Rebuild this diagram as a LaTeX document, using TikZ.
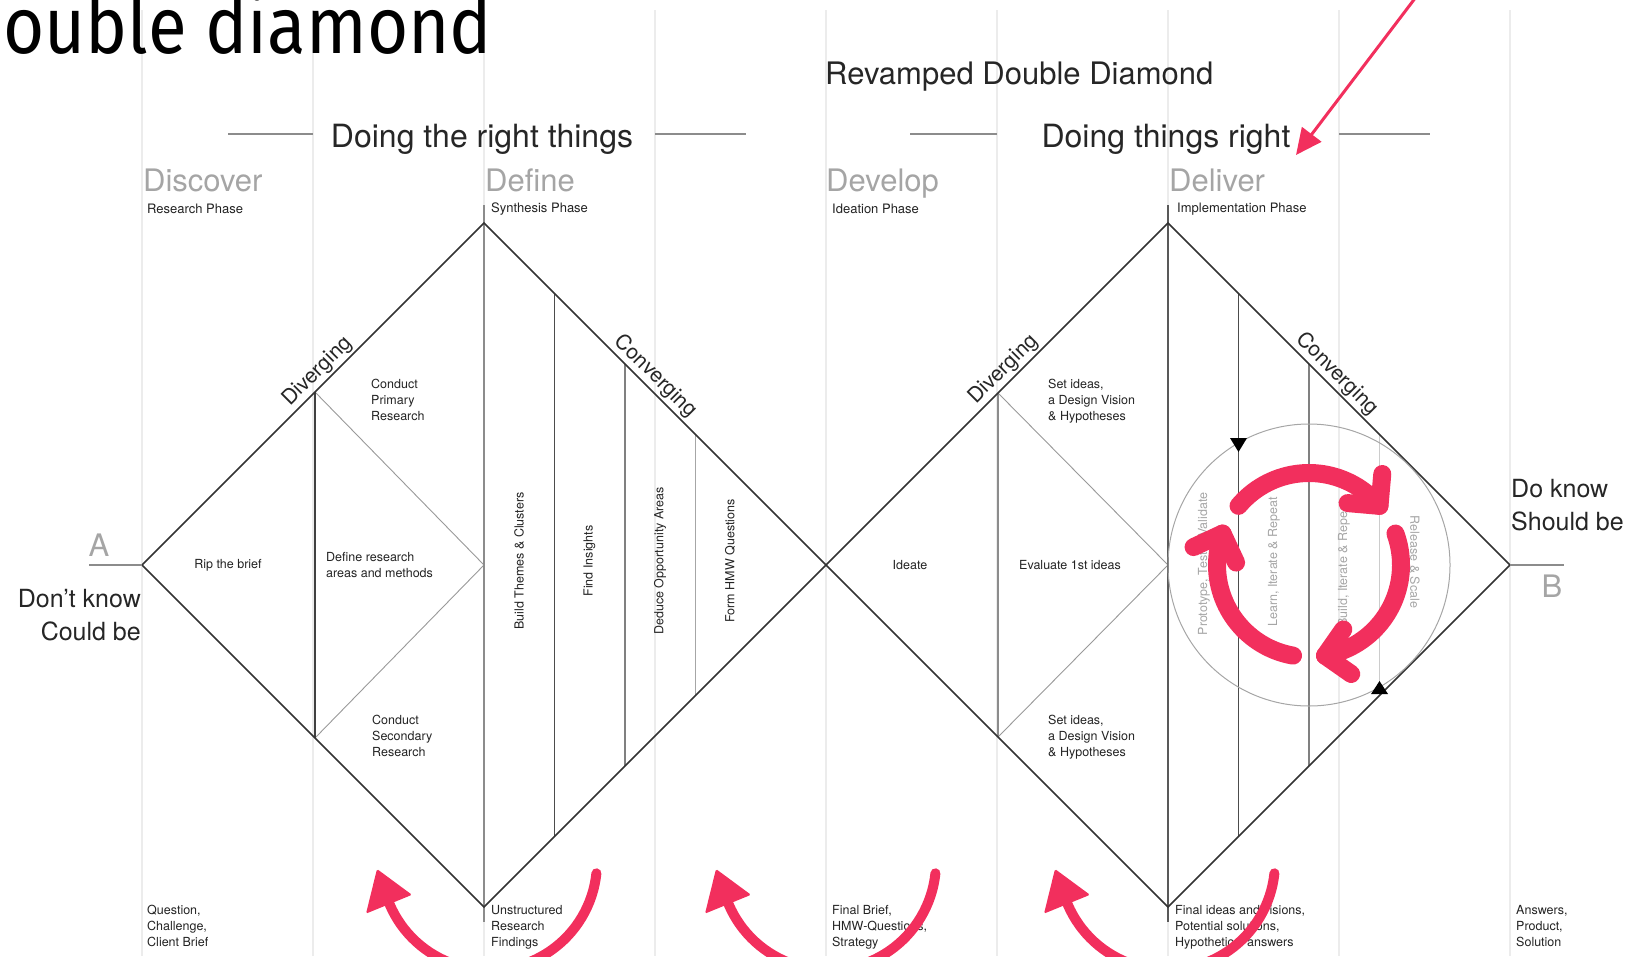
\documentclass[tikz,border=0pt]{standalone}
\usepackage{fontspec}
\setmainfont{TeX Gyre Heros}
\newfontfamily\titlefont{Fira Sans}
\usetikzlibrary{arrows.meta}
\definecolor{accent}{RGB}{242,47,93}
\definecolor{gridc}{RGB}{236,236,236}
\definecolor{phasec}{RGB}{165,165,165}
\definecolor{inkc}{RGB}{35,35,35}
\begin{document}
\begin{tikzpicture}[x=1pt,y=-1pt,
  gridline/.style={draw=gridc,line width=1.3},
  outline/.style={draw=black!80,line width=1.7},
  colline/.style={draw=black!#1,line width=1.2},
  thinline/.style={draw=black!40,line width=0.9},
  small/.style={font=\fontsize{12.5}{16}\selectfont,text=inkc,inner sep=0,align=left},
  smallrot/.style={font=\fontsize{12.5}{16}\selectfont,text=inkc,inner sep=0,rotate=90},
  circtext/.style={font=\fontsize{12.5}{16}\selectfont,text=black!35,inner sep=0,rotate=90},
  phase/.style={font=\fontsize{31}{31}\selectfont,text=phasec,anchor=base west,inner sep=0},
  sub/.style={font=\fontsize{13}{14}\selectfont,text=inkc,anchor=west,inner sep=0},
  head/.style={font=\fontsize{32}{32}\selectfont,text=black!85,anchor=base,inner sep=0},
  rule/.style={draw=black!45,line width=1.4},
  flow/.style={font=\fontsize{21}{21}\selectfont,text=black!85,anchor=south,inner sep=2.5},
  endtext/.style={font=\fontsize{25}{33}\selectfont,text=black!85,inner sep=0},
  endletter/.style={font=\fontsize{31}{31}\selectfont,text=phasec,anchor=base,inner sep=0},
  redarc/.style={draw=accent,line width=10,line cap=round},
  cyc/.style={draw=accent,line width=18,line cap=round,line join=round},
]
\useasboundingbox (0,0) rectangle (1637,956);
% background grid
\foreach \k in {0,...,8} \draw[gridline] ({142+171*\k},10) -- ({142+171*\k},956);

% titles
\node[anchor=base west,inner sep=0,font=\titlefont\fontsize{80}{80}\selectfont] (title) at (3,53) {\scalebox{0.885}[1]{ouble diamond}};
\node[font=\fontsize{31}{31}\selectfont,anchor=base west,inner sep=0,text=black!85] (rev) at (825,84) {Revamped Double Diamond};
\node[head] (h1) at (482,147) {Doing the right things};
\node[head] (h2) at (1166,147) {Doing things right};
\draw[rule] (228,134) -- (313,134);
\draw[rule] (655,134) -- (746,134);
\draw[rule] (910,134) -- (997,134);
\draw[rule] (1339,134) -- (1430,134);

% phases
\node[phase] (p1) at (143,191) {Discover};
\node[phase] (p2) at (485,191) {Define};
\node[phase] (p3) at (826,191) {Develop};
\node[phase] (p4) at (1169,191) {Deliver};
\node[sub] (s1) at (147,209) {Research Phase};
\node[sub] (s2) at (491,209) {Synthesis Phase};
\node[sub] (s3) at (832,209) {Ideation Phase};
\node[sub] (s4) at (1177,209) {Implementation Phase};

% diamond corners
\coordinate (LA) at (142,565);
\coordinate (LT) at (484,223);
\coordinate (LM) at (826,565);
\coordinate (LB) at (484,907);
\coordinate (RT) at (1168,223);
\coordinate (RR) at (1510,565);
\coordinate (RB) at (1168,907);
\coordinate (LC) at (484,565);
\coordinate (RC) at (1168,565);

% inner structure left
\coordinate (L1t) at (315,392);
\coordinate (L1b) at (315,738);
\draw[thinline] (L1t) -- (LC) -- (L1b);
\draw[colline=75] (L1t) -- (L1b);
\draw[colline=45] (484,205) -- (484,922);
\draw[colline=70] (554.5,293.5) -- (554.5,836.5);
\draw[colline=50] (625,364) -- (625,766);
\draw[colline=35] (695.5,434.5) -- (695.5,695.5);

% inner structure right
\coordinate (R1t) at (998,393);
\coordinate (R1b) at (998,737);
\draw[thinline] (R1t) -- (RC) -- (R1b);
\draw[colline=45] (R1t) -- (R1b);
\draw[colline=65] (1168,205) -- (1168,922);
\draw[colline=70] (1238.5,293.5) -- (1238.5,836.5);
\draw[colline=50] (1309,364) -- (1309,766);
\draw[colline=20] (1379.5,434.5) -- (1379.5,695.5);

% diamonds
\draw[outline,line join=miter] (LA) -- (LT) -- (LM) -- (LB) -- cycle;
\draw[outline,line join=miter] (LM) -- (RT) -- (RR) -- (RB) -- cycle;

% start / end
\draw[rule] (89,565) -- (LA);
\draw[rule] (RR) -- (1564,565);
\node[endletter] (A) at (99,556) {A};
\node[endletter] (B) at (1552,597) {B};
\node[endtext,align=right,anchor=north east] (dk) at (141,589) {Don't know\\Could be};
\node[endtext,align=left,anchor=north west] (kn) at (1511,479) {Do know\\Should be};

% diverging / converging
\node[flow,rotate=45] (dv1) at (326.5,380.5) {Diverging};
\node[flow,rotate=45] (dv2) at (1012.5,378.5) {Diverging};
\node[flow,rotate=-45] (cv1) at (646.5,385.5) {Converging};
\node[flow,rotate=-45] (cv2) at (1328,383) {Converging};

% body texts left
\node[small] (t1) at (228,565) {Rip the brief};
\node[small,anchor=north west] (t2) at (371,379) {Conduct\\Primary\\Research};
\node[small,anchor=west] (t3) at (326,565) {Define research\\areas and methods};
\node[small,anchor=north west] (t4) at (372,715) {Conduct\\Secondary\\Research};
\node[smallrot] (c1) at (519,561) {Build Themes \& Clusters};
\node[smallrot] (c2) at (589.5,561) {Find Insights};
\node[smallrot] (c3) at (660,561) {Deduce Opportunity Areas};
\node[smallrot] (c4) at (730,561) {Form HMW Questions};

% body texts right
\node[small] (t5) at (910,565) {Ideate};
\node[small,anchor=north west] (t6) at (1048,379) {Set ideas,\\a Design Vision\\\& Hypotheses};
\node[small] (t7) at (1070,565) {Evaluate 1st ideas};
\node[small,anchor=north west] (t8) at (1048,715) {Set ideas,\\a Design Vision\\\& Hypotheses};

% bottom texts
\node[small,anchor=north west] (b1) at (147,905) {Question,\\Challenge,\\Client Brief};
\node[small,anchor=north west] (b2) at (491,905) {Unstructured\\Research\\Findings};
\node[small,anchor=north west] (b3) at (832,905) {Final Brief,\\HMW-Questions,\\Strategy};
\node[small,anchor=north west] (b4) at (1175,905) {Final ideas and visions,\\Potential solutions,\\Hypothetical answers};
\node[small,anchor=north west] (b5) at (1516,905) {Answers,\\Product,\\Solution};

% iteration circle
\draw[draw=black!35,line width=1] (1309,565) circle[radius=141];
\node[circtext] (q1) at (1204,564) {Prototype, Test \& Validate};
\node[circtext] (q2) at (1274,562) {Learn, Iterate \& Repeat};
\node[circtext] (q3) at (1344,564) {Build, Iterate \& Repeat};
\node[circtext,rotate=180] (q4) at (1415,562) {Release \& Scale};
\fill[black] (1238.5,452) -- (1230,438) -- (1247,438) -- cycle;
\fill[black] (1379.5,681) -- (1371,694) -- (1388,694) -- cycle;

% cycle arrows
\foreach \k in {0,1,2} {
  \pgfmathsetmacro\sa{-140+120*\k}
  \pgfmathsetmacro\ea{-40+120*\k}
  \draw[cyc] plot[domain=\sa:\ea,samples=40] ({1309+92*cos(\x)},{565+92*sin(\x)});
  \draw[cyc] ({1309+92*cos(\ea)+32*cos(\ea-45)},{565+92*sin(\ea)+32*sin(\ea-45)}) -- ({1309+92*cos(\ea)},{565+92*sin(\ea)}) -- ({1309+92*cos(\ea)+32*cos(\ea-135)},{565+92*sin(\ea)+32*sin(\ea-135)});
}

% bottom return arrows
\foreach \s in {0,339,678} {
  \draw[redarc] plot[domain=6:157,samples=50] ({489+\s+108*cos(\x)},{862+108*sin(\x)});
  \fill[accent,rounded corners=1.5] ({377+\s},869) -- ({412+\s},894.8) -- ({366+\s},913.6) -- cycle;
}

% pointer arrow
\coordinate (ptrStart) at (1416,-3);
\coordinate (ptrEnd) at (1296,155);
\draw[accent,line width=3,-{Triangle[length=26,width=24]}] (ptrStart) -- (ptrEnd);
\end{tikzpicture}
\end{document}
